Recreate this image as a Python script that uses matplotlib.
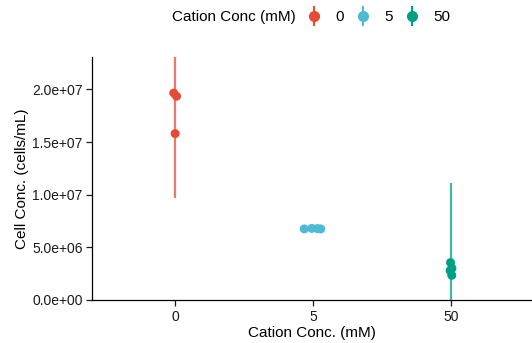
import matplotlib.pyplot as plt
from matplotlib.lines import Line2D
from matplotlib.ticker import FuncFormatter

plt.rcParams['font.family'] = ['Liberation Sans', 'DejaVu Sans']

# Données
groupes = ["0", "5", "50"]
couleurs = ["#E64B35", "#4DBBD5", "#00A087"]

# points individuels (décalage en x, concentration)
pts_x = [[-0.01, 0.01, 0.0],
         [-0.065, -0.01, 0.03, 0.055],
         [-0.005, 0.005, -0.008, 0.004]]
pts_y = [[1.965e7, 1.935e7, 1.58e7],
         [6.75e6, 6.8e6, 6.78e6, 6.75e6],
         [3.55e6, 3.0e6, 2.8e6, 2.35e6]]

# barres d'erreur (bas, haut)
err_bas = [0.968e7, 6.6e6, -5.3e6]
err_haut = [2.70e7, 6.95e6, 1.113e7]

fig = plt.figure(figsize=(5.32, 3.43), dpi=100)
ax = fig.add_axes([0.1735, 0.1254, 0.8265, 0.7076])

for i in range(len(groupes)):
    ax.vlines(i, err_bas[i], err_haut[i], color=couleurs[i], lw=1.6, alpha=0.75, zorder=2)
    ax.scatter([i + dx for dx in pts_x[i]], pts_y[i], s=42, color=couleurs[i],
               edgecolors='none', zorder=3)

ax.set_xlim(-0.6, 2.585)
ax.set_ylim(0, 2.305e7)
ax.set_xticks(range(len(groupes)))
ax.set_xticklabels(groupes)
ax.set_yticks([0, 5e6, 1e7, 1.5e7, 2e7])
ax.yaxis.set_major_formatter(FuncFormatter(lambda v, p: f"{v:.1e}"))

for s in ["top", "right"]:
    ax.spines[s].set_visible(False)
for s in ["left", "bottom"]:
    ax.spines[s].set_linewidth(0.9)
ax.tick_params(direction='out', length=4, width=0.9, labelsize=10, colors='#1a1a1a', pad=3)

ax.set_xlabel("Cation Conc. (mM)", fontsize=11, labelpad=2)
ax.set_ylabel("Cell Conc. (cells/mL)", fontsize=11, labelpad=2)

# légende en haut
fig.text(172 / 532, 1 - 17 / 343, "Cation Conc (mM)", fontsize=11, va='center', ha='left')
poignees = []
for c in couleurs:
    barre = Line2D([], [], marker='|', markersize=15, markeredgewidth=1.5, color=c, linestyle='none')
    point = Line2D([], [], marker='o', markersize=7, color=c, linestyle='none')
    poignees.append((barre, point))
fig.legend(poignees, groupes, loc='center left', bbox_to_anchor=(306 / 532, 1 - 17 / 343),
           ncol=3, frameon=False, fontsize=11, handlelength=1.0, handletextpad=0.95,
           columnspacing=0.7, borderpad=0, borderaxespad=0)

plt.savefig("out.png", dpi=100)
